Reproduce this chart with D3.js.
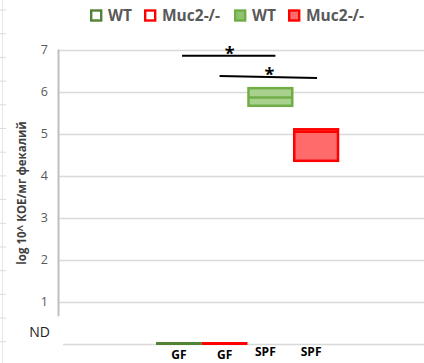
<!DOCTYPE html>
<html>
<head>
<meta charset="utf-8">
<script src="https://cdn.jsdelivr.net/npm/d3@7"></script>
<style>
  html, body { margin: 0; padding: 0; background: #fff; }
  svg { display: block; }
</style>
</head>
<body>
<div id="chart"></div>
<script>
// groups along the x axis
const groups = ["GF_WT", "GF_Muc2", "SPF_WT", "SPF_Muc2"];
const groupLabels = ["GF", "GF", "SPF", "SPF"];
// box stats (log10 CFU/mg), ND = 0
const boxLow = [0, 0, 5.66, 4.35];
const boxMid = [0, 0, 5.86, 5.04];
const boxHigh = [0, 0, 6.08, 5.10];
const yTicks = [1, 2, 3, 4, 5, 6, 7];
// significance bars: from group, to group, heights, where in the band they start/end
const sigFrom = ["GF_WT", "GF_Muc2"];
const sigTo = ["SPF_WT", "SPF_Muc2"];
const sigLeft = [6.85, 6.37];
const sigRight = [6.85, 6.32];
const sigFracFrom = [0.57, 0.39];
const sigFracTo = [0.61, 0.52];
const legendNames = ["WT", "Muc2-/-", "WT", "Muc2-/-"];

const W = 424, H = 363;
const stroke = ["#548235", "#ff0000", "#70ad47", "#ff0000"];
const fill = ["none", "none", "#a9d18e", "#ff6b6b"];

const svg = d3.select("#chart").append("svg")
  .attr("width", W).attr("height", H)
  .style("font-family", "'Open Sans', 'Noto Sans', sans-serif");

const y = d3.scaleLinear().domain([0, 7]).range([343.5, 49.5]);
const x = d3.scaleBand().domain(groups).range([156, 339]).paddingInner(0);

// faint sheet edge on the left
svg.append("line").attr("x1", 2.5).attr("x2", 2.5).attr("y1", 0).attr("y2", H)
  .attr("stroke", "#e6e6e6");
svg.selectAll(".rowtick").data(d3.range(10, H, 23.7)).join("line")
  .attr("x1", 0).attr("x2", 6).attr("y1", d => d).attr("y2", d => d)
  .attr("stroke", "#dcdcdc");

// gridlines
svg.selectAll(".grid").data(yTicks).join("line")
  .attr("x1", 58).attr("x2", W)
  .attr("y1", d => Math.round(y(d)) + 0.5).attr("y2", d => Math.round(y(d)) + 0.5)
  .attr("stroke", "#d9d9d9").attr("stroke-width", 1.5);
svg.append("line").attr("x1", 63).attr("x2", W)
  .attr("y1", Math.round(y(0)) + 0.5).attr("y2", Math.round(y(0)) + 0.5)
  .attr("stroke", "#d9d9d9").attr("stroke-width", 1.5);

// y axis line
svg.append("line").attr("x1", 58.5).attr("x2", 58.5)
  .attr("y1", y(7)).attr("y2", y(0.65))
  .attr("stroke", "#bfbfbf").attr("stroke-width", 2);

// tick labels
svg.selectAll(".tick").data(yTicks).join("text")
  .attr("x", 48).attr("y", d => y(d))
  .attr("dy", "0.35em").attr("text-anchor", "end")
  .attr("font-size", 12.5).attr("fill", "#595959")
  .text(d => d);
svg.append("text").attr("x", 50).attr("y", 332).attr("dy", "0.35em")
  .attr("text-anchor", "end").attr("font-size", 14).attr("fill", "#222")
  .text("ND");

// y axis title
svg.append("text")
  .attr("transform", "translate(26,193) rotate(-90)")
  .attr("text-anchor", "middle").attr("font-size", 11.5).attr("font-weight", "bold")
  .attr("fill", "#404040")
  .text("log 10^ КОЕ/мг фекалий");

// boxes
groups.forEach((g, i) => {
  if (boxHigh[i] === boxLow[i]) {
    // not detected: flat bar on the ND line
    svg.append("line")
      .attr("x1", x(g)).attr("x2", x(g) + x.bandwidth())
      .attr("y1", y(boxMid[i])).attr("y2", y(boxMid[i]))
      .attr("stroke", stroke[i]).attr("stroke-width", 3);
    return;
  }
  const x0 = x(g) + 1, w = x.bandwidth() - 2;
  svg.append("rect")
    .attr("x", x0).attr("y", y(boxHigh[i]))
    .attr("width", w).attr("height", y(boxLow[i]) - y(boxHigh[i]))
    .attr("fill", fill[i]).attr("stroke", stroke[i]).attr("stroke-width", 2.5);
  svg.append("line")
    .attr("x1", x0).attr("x2", x0 + w)
    .attr("y1", y(boxMid[i])).attr("y2", y(boxMid[i]))
    .attr("stroke", stroke[i]).attr("stroke-width", 2.5);
});

// significance bars
sigFrom.forEach((f, i) => {
  const xa = x(f) + x.bandwidth() * sigFracFrom[i];
  const xb = x(sigTo[i]) + x.bandwidth() * sigFracTo[i];
  svg.append("line")
    .attr("x1", xa).attr("x2", xb)
    .attr("y1", y(sigLeft[i])).attr("y2", y(sigRight[i]))
    .attr("stroke", "#000").attr("stroke-width", 2);
  svg.append("text")
    .attr("x", (xa + xb) / 2 + 1).attr("y", y((sigLeft[i] + sigRight[i]) / 2) + 4)
    .attr("text-anchor", "middle").attr("font-size", 18).attr("font-weight", "bold")
    .attr("fill", "#000").text("*");
});

// x labels
groups.forEach((g, i) => {
  svg.append("text")
    .attr("x", x(g) + x.bandwidth() / 2 - (groupLabels[i] === "SPF" ? 5 : 0))
    .attr("y", groupLabels[i] === "SPF" ? 356 : 359)
    .attr("text-anchor", "middle").attr("font-size", 12).attr("font-weight", "bold")
    .attr("fill", "#000").text(groupLabels[i]);
});

// legend
const legendX = [90, 144, 234, 288];
legendNames.forEach((n, i) => {
  svg.append("rect")
    .attr("x", legendX[i] + 1.2).attr("y", 10.5)
    .attr("width", 10).attr("height", 10)
    .attr("fill", i < 2 ? "#fff" : (i === 2 ? "#8fc26d" : "#ff6b6b"))
    .attr("stroke", i === 2 ? "#70ad47" : stroke[i]).attr("stroke-width", 2.4);
  svg.append("text")
    .attr("x", legendX[i] + 18).attr("y", 16).attr("dy", "0.35em")
    .attr("font-size", 15.5).attr("font-weight", "bold").attr("fill", "#595959")
    .text(n);
});
</script>
</body>
</html>
